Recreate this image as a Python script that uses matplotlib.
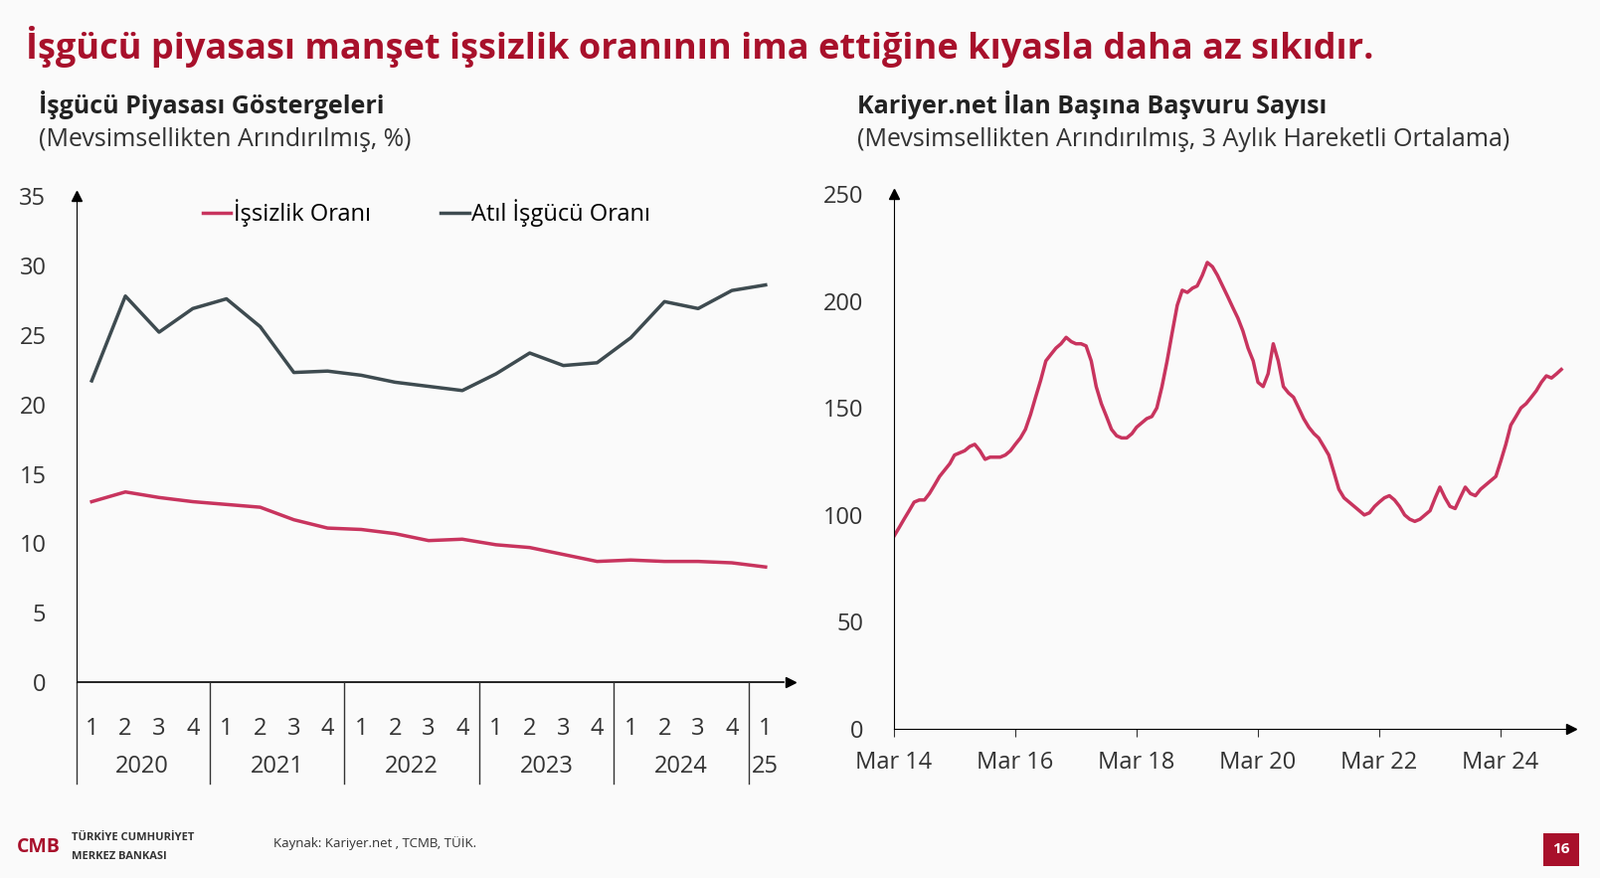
import matplotlib.pyplot as plt
import pandas as pd
from matplotlib.patches import Rectangle

plt.rcParams['font.family'] = 'Open Sans'

# left panel: quarterly 2020Q1 - 2025Q1
atil = [21.7, 27.8, 25.2, 26.9, 27.6, 25.6, 22.3, 22.4, 22.1, 21.6, 21.3,
        21.0, 22.2, 23.7, 22.8, 23.0, 24.8, 27.4, 26.9, 28.2, 28.6]
issizlik = [13.0, 13.7, 13.3, 13.0, 12.8, 12.6, 11.7, 11.1, 11.0, 10.7, 10.2,
            10.3, 9.9, 9.7, 9.2, 8.7, 8.8, 8.7, 8.7, 8.6, 8.3]
quarter_labels = ['1', '2', '3', '4'] * 5 + ['1']
year_labels = ['2020', '2021', '2022', '2023', '2024', '25']

# right panel: monthly Mar 2014 - Mar 2025
basvuru = [90, 94, 98, 102, 106, 107, 107, 110, 114, 118,
           121, 124, 128, 129, 130, 132, 133, 130, 126, 127, 127, 127,
           128, 130, 133, 136, 140, 147, 155, 163, 172, 175, 178, 180,
           183, 181, 180, 180, 179, 172, 160, 152, 146, 140, 137, 136,
           136, 138, 141, 143, 145, 146, 150, 160, 172, 185, 198, 205,
           204, 206, 207, 212, 218, 216, 212, 207, 202, 197, 192, 186,
           178, 172, 162, 160, 166, 180, 172, 160, 157, 155, 150, 145,
           141, 138, 136, 132, 128, 120, 112, 108, 106, 104, 102, 100,
           101, 104, 106, 108, 109, 107, 104, 100, 98, 97, 98, 100,
           102, 108, 113, 108, 104, 103, 108, 113, 110, 109, 112, 114,
           116, 118, 125, 133, 142, 146, 150, 152, 155, 158, 162, 165,
           164, 166, 168]
months = pd.date_range('2014-03-01', periods=len(basvuru), freq='MS')

RED = '#a8102b'
PINK = '#c8345e'
GREY = '#3e4b50'
W, H = 1568, 860  # reference coordinate space
FS = 17  # tick/legend font size

fig = plt.figure(figsize=(16.09, 8.83), dpi=100, facecolor='#fafafa')


def ax_rect(x0, y0, x1, y1):
    return [x0 / W, 1 - y1 / H, (x1 - x0) / W, (y1 - y0) / H]


def fx(px):
    return px / W


def fy(py):
    return 1 - py / H


fig.text(fx(25), fy(46), 'İşgücü piyasası manşet işsizlik oranının ima ettiğine kıyasla daha az sıkıdır.',
         color=RED, fontsize=26, fontweight='bold', va='center')
fig.text(fx(38), fy(103), 'İşgücü Piyasası Göstergeleri', fontsize=18, fontweight='bold', va='center', color='#222')
fig.text(fx(38), fy(137), '(Mevsimsellikten Arındırılmış, %)', fontsize=18, va='center', color='#333')
fig.text(fx(840), fy(103), 'Kariyer.net İlan Başına Başvuru Sayısı', fontsize=18, fontweight='bold', va='center', color='#222')
fig.text(fx(840), fy(137), '(Mevsimsellikten Arındırılmış, 3 Aylık Hareketli Ortalama)', fontsize=18, va='center', color='#333')

# left chart
ax1 = fig.add_axes(ax_rect(75, 192, 775, 686))
x = list(range(len(atil)))
ax1.plot(x, issizlik, color=PINK, lw=2.5, label='İşsizlik Oranı')
ax1.plot(x, atil, color=GREY, lw=2.5, label='Atıl İşgücü Oranı')
ax1.set_xlim(-0.45, 20.75)
ax1.set_ylim(-1.3, 35)
ax1.set_facecolor('none')
for s in ['top', 'right', 'bottom']:
    ax1.spines[s].set_visible(False)
ax1.spines['left'].set_bounds(0, 35)
ax1.axhline(0, color='black', lw=1.2, xmax=0.99)
ax1.plot(1, 0, '>k', transform=ax1.get_yaxis_transform(), clip_on=False, ms=7)
ax1.plot(-0.45, 35, '^k', clip_on=False, ms=7)
ax1.set_yticks(range(0, 36, 5))
ax1.tick_params(axis='y', length=0, labelsize=FS, pad=22, colors='#333')
ax1.set_xticks(x)
ax1.set_xticklabels(quarter_labels)
ax1.tick_params(axis='x', length=0, labelsize=FS, pad=12, colors='#333')
for i, yl in enumerate(year_labels):
    xc = 1.5 + 4 * i if i < 5 else 20
    ax1.text(xc, -6.1, yl, ha='center', va='center', fontsize=FS, color='#333')
for b in [3.5, 7.5, 11.5, 15.5, 19.5]:
    ax1.plot([b, b], [0, -7.3], color='#333', lw=1, clip_on=False)
ax1.plot([-0.45, -0.45], [0, -7.3], color='#333', lw=1, clip_on=False)
ax1.legend(loc='upper center', bbox_to_anchor=(0.49, 1.035), ncol=2, frameon=False,
           fontsize=FS, handlelength=1.2, handletextpad=0.1, columnspacing=3)

# right chart
ax2 = fig.add_axes(ax_rect(876, 190, 1540, 714))
ax2.plot(months, basvuru, color=PINK, lw=2.5)
ax2.set_xlim(pd.Timestamp('2014-03-01'), pd.Timestamp('2025-05-01'))
ax2.set_ylim(0, 250)
ax2.set_facecolor('none')
for s in ['top', 'right']:
    ax2.spines[s].set_visible(False)
ax2.plot(1, 0, '>k', transform=ax2.transAxes, clip_on=False, ms=7)
ax2.plot(0, 1, '^k', transform=ax2.transAxes, clip_on=False, ms=7)
ax2.set_yticks(range(0, 251, 50))
ax2.tick_params(axis='y', length=0, labelsize=FS, pad=22, colors='#333')
ticks = pd.date_range('2014-03-01', '2024-03-01', freq='24MS')
ax2.set_xticks(ticks)
ax2.set_xticklabels([d.strftime('Mar %y') for d in ticks])
ax2.tick_params(axis='x', direction='out', length=6, labelsize=FS, pad=10, colors='#333')

# footer
fig.text(fx(70), fy(821), 'TÜRKİYE CUMHURİYET', fontsize=8, fontweight='bold', color='#333', va='center')
fig.text(fx(70), fy(839), 'MERKEZ BANKASI', fontsize=8, fontweight='bold', color='#333', va='center')
fig.text(fx(38), fy(830), 'CMB', fontsize=14, fontweight='bold', color=RED, ha='center', va='center')
fig.text(fx(268), fy(826), 'Kaynak: Kariyer.net , TCMB, TÜİK.', fontsize=9.5, color='#333', va='center')
fig.patches.append(Rectangle((fx(1512), fy(848)), 36 / W, 32 / H, transform=fig.transFigure,
                             facecolor=RED, edgecolor='none'))
fig.text(fx(1530), fy(832), '16', fontsize=11, fontweight='bold', color='white', ha='center', va='center')

fig.savefig('out.png', dpi=100, facecolor=fig.get_facecolor())
